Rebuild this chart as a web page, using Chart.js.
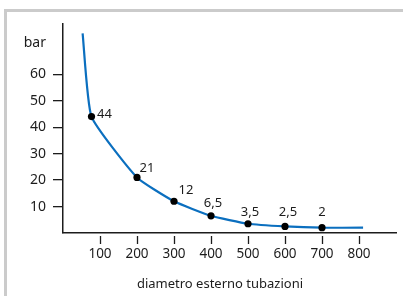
<!DOCTYPE html>
<html><head><meta charset="utf-8">
<script src="https://cdn.jsdelivr.net/npm/chart.js@4"></script>
<style>
html,body{margin:0;padding:0;background:#fff;overflow:hidden;width:403px;height:296px}
#frame{position:absolute;left:4px;top:9px;width:600px;height:600px;border-top:3px solid #cbcbcb;border-left:3px solid #cbcbcb}
#wrap{position:absolute;left:0;top:0;width:403px;height:296px}
</style></head><body>
<div id="frame"></div>
<div id="wrap"><canvas id="c"></canvas></div>
<script>
// data
const diameters = [53, 77, 200, 300, 400, 500, 600, 700, 811];
const pressures = [75.5, 44, 21, 12, 6.5, 3.5, 2.5, 2, 2];
const pointLabels = ['', '44', '21', '12', '6,5', '3,5', '2,5', '2', ''];
const xTickValues = [100, 200, 300, 400, 500, 600, 700, 800];
const yTickValues = [10, 20, 30, 40, 50, 60];
const yUnitLabel = 'bar';
const yUnitValue = 72;
const xTitle = 'diametro esterno tubazioni';

// styles
const INK = '#1c1c1c';
const FONT = '"Noto Sans", "Open Sans", sans-serif';
const labelOffsets = [[0,0],[13,-2],[10,-9.5],[12,-11],[2,-13],[2,-11],[3,-14.5],[0,-15],[0,0]];

const decor = {
  id: 'decor',
  afterDatasetsDraw(chart) {
    const ctx = chart.ctx, xs = chart.scales.x, ca = chart.chartArea;
    ctx.save();
    ctx.strokeStyle = INK; ctx.lineWidth = 1.3;
    xTickValues.forEach(v => {
      const px = Math.round(xs.getPixelForValue(v)) + 0.5;
      ctx.beginPath(); ctx.moveTo(px, ca.bottom + 3); ctx.lineTo(px, ca.bottom + 11); ctx.stroke();
    });
    ctx.fillStyle = INK; ctx.font = '13px ' + FONT;
    ctx.textAlign = 'center'; ctx.textBaseline = 'middle';
    const meta = chart.getDatasetMeta(0);
    meta.data.forEach((pt, i) => {
      if (!pointLabels[i]) return;
      ctx.fillText(pointLabels[i], pt.x + labelOffsets[i][0], pt.y + labelOffsets[i][1]);
    });
    ctx.font = '13px ' + FONT; ctx.textBaseline = 'alphabetic';
    ctx.fillText(xTitle, 220, 288);
    ctx.restore();
  }
};

new Chart(document.getElementById('c'), {
  type: 'line',
  data: {
    datasets: [{
      data: diameters.map((d, i) => ({x: d, y: pressures[i]})),
      borderColor: '#0b6fbf',
      borderWidth: 2.2,
      tension: 0.15,
      pointRadius: pointLabels.map(l => l ? 3.6 : 0),
      pointBackgroundColor: '#000',
      pointBorderColor: '#000',
      pointBorderWidth: 0,
      fill: false
    }]
  },
  options: {
    responsive: true,
    maintainAspectRatio: false,
    animation: false,
    layout: {padding: {top: 24, right: 7, left: 0, bottom: 0}},
    plugins: {legend: {display: false}, tooltip: {enabled: false}},
    scales: {
      x: {
        type: 'linear', min: 0, max: 900,
        afterBuildTicks: s => { s.ticks = xTickValues.map(v => ({value: v})); },
        afterFit: s => { s.height = 63; },
        grid: {drawOnChartArea: false, drawTicks: true, tickLength: 11, tickColor: 'rgba(0,0,0,0)'},
        border: {display: true, color: INK, width: 1.5},
        ticks: {color: INK, padding: 2, maxRotation: 0, autoSkip: false, font: {family: FONT, size: 13.5}}
      },
      y: {
        type: 'linear', min: 0, max: 79,
        afterBuildTicks: s => { s.ticks = yTickValues.concat([yUnitValue]).map(v => ({value: v})); },
        afterFit: s => { s.width = 63; },
        grid: {drawOnChartArea: false, drawTicks: true, tickLength: 10, lineWidth: 1.3,
               tickColor: c => (c.tick && c.tick.value === yUnitValue) ? 'rgba(0,0,0,0)' : INK},
        border: {display: true, color: INK, width: 1.5},
        ticks: {color: INK, padding: 7, autoSkip: false,
                callback: v => v === yUnitValue ? yUnitLabel : v,
                font: {family: FONT, size: 14}}
      }
    }
  },
  plugins: [decor]
});
</script>
</body></html>
